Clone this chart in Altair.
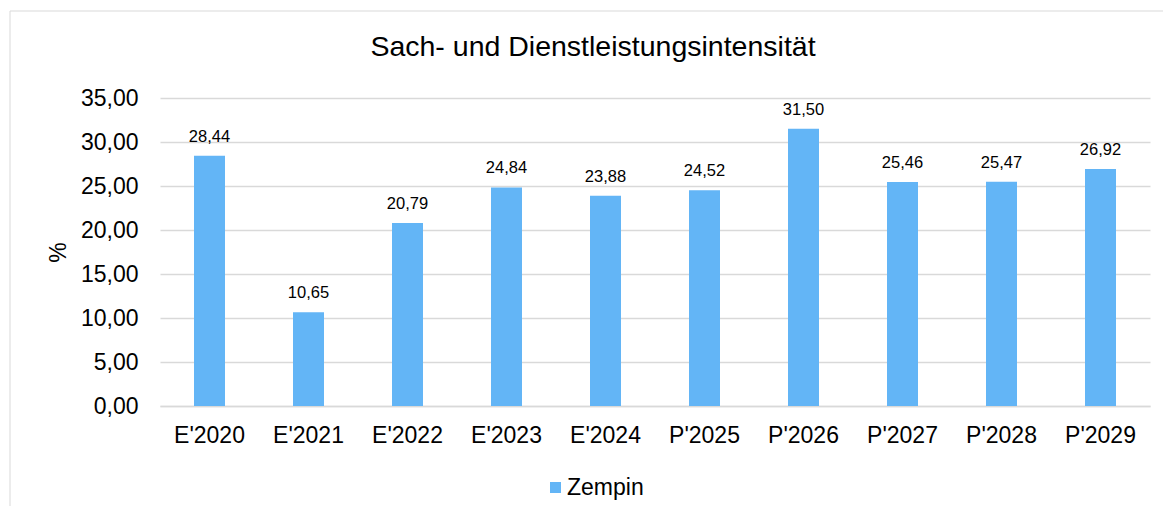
import altair as alt
import pandas as pd

categories = ["E'2020", "E'2021", "E'2022", "E'2023", "E'2024",
              "P'2025", "P'2026", "P'2027", "P'2028", "P'2029"]
values = [28.44, 10.65, 20.79, 24.84, 23.88, 24.52, 31.50, 25.46, 25.47, 26.92]
series_name = "Zempin"
y_ticks = [0, 5, 10, 15, 20, 25, 30, 35]

df = pd.DataFrame({"Jahr": categories, "Wert": values, "Serie": series_name})

FONT = "Liberation Sans"
BAR = "#63B5F6"

base = alt.Chart(df)

frame = base.mark_rect(fill=None, stroke="#d9d9d9", strokeWidth=1, clip=False).encode(
    x=alt.value(-150), x2=alt.value(1025), y=alt.value(-87), y2=alt.value(430)
).transform_filter(alt.datum.Jahr == categories[0])

bars = base.mark_bar(size=31, color=BAR).encode(
    x=alt.X("Jahr:N", sort=categories,
            scale=alt.Scale(paddingInner=0, paddingOuter=0),
            axis=alt.Axis(title=None, labelAngle=0, labelFontSize=23, labelFont=FONT,
                          labelColor="#000000", labelPadding=18, ticks=False,
                          domainColor="#d9d9d9", domainWidth=1.5, grid=False)),
    y=alt.Y("Wert:Q",
            scale=alt.Scale(domain=[0, 35], nice=False),
            axis=alt.Axis(title="%", values=y_ticks, labelFontSize=23, labelFont=FONT,
                          labelColor="#000000", labelPadding=22, ticks=False, domain=False,
                          gridColor="#d9d9d9", gridWidth=1.5,
                          labelExpr="replace(format(datum.value, '.2f'), '.', ',')",
                          titleFont=FONT, titleFontSize=23, titleFontWeight="normal",
                          titleColor="#000000", titleX=-102, titleY=154, titleAngle=270,
                          titleAlign="center", titleBaseline="middle")),
    fill=alt.Fill("Serie:N", scale=alt.Scale(range=[BAR]),
                  legend=alt.Legend(title=None, orient="none", legendX=384, legendY=378,
                                    symbolType="square", symbolSize=121, symbolStrokeWidth=0,
                                    labelFont=FONT, labelFontSize=23, labelColor="#000000",
                                    symbolOffset=0, labelOffset=0)),
)

labels = base.transform_calculate(
    txt="replace(format(datum.Wert, '.2f'), '.', ',')"
).mark_text(font=FONT, fontSize=16.5, color="#000000", baseline="alphabetic", dy=-14).encode(
    x=alt.X("Jahr:N", sort=categories),
    y="Wert:Q",
    text="txt:N",
)

chart = alt.layer(frame, bars, labels).properties(
    width=990, height=308,
    autosize=alt.AutoSizeParams(type="none"),
    padding={"left": 152, "top": 90, "right": 13, "bottom": 100},
    title=alt.TitleParams("Sach- und Dienstleistungsintensität", font=FONT, fontSize=28.5,
                          fontWeight="normal", color="#000000", anchor="middle",
                          dx=-62, offset=-51),
).configure_view(stroke=None)

chart.save("out.html", embed_options={"renderer": "svg", "actions": False})
